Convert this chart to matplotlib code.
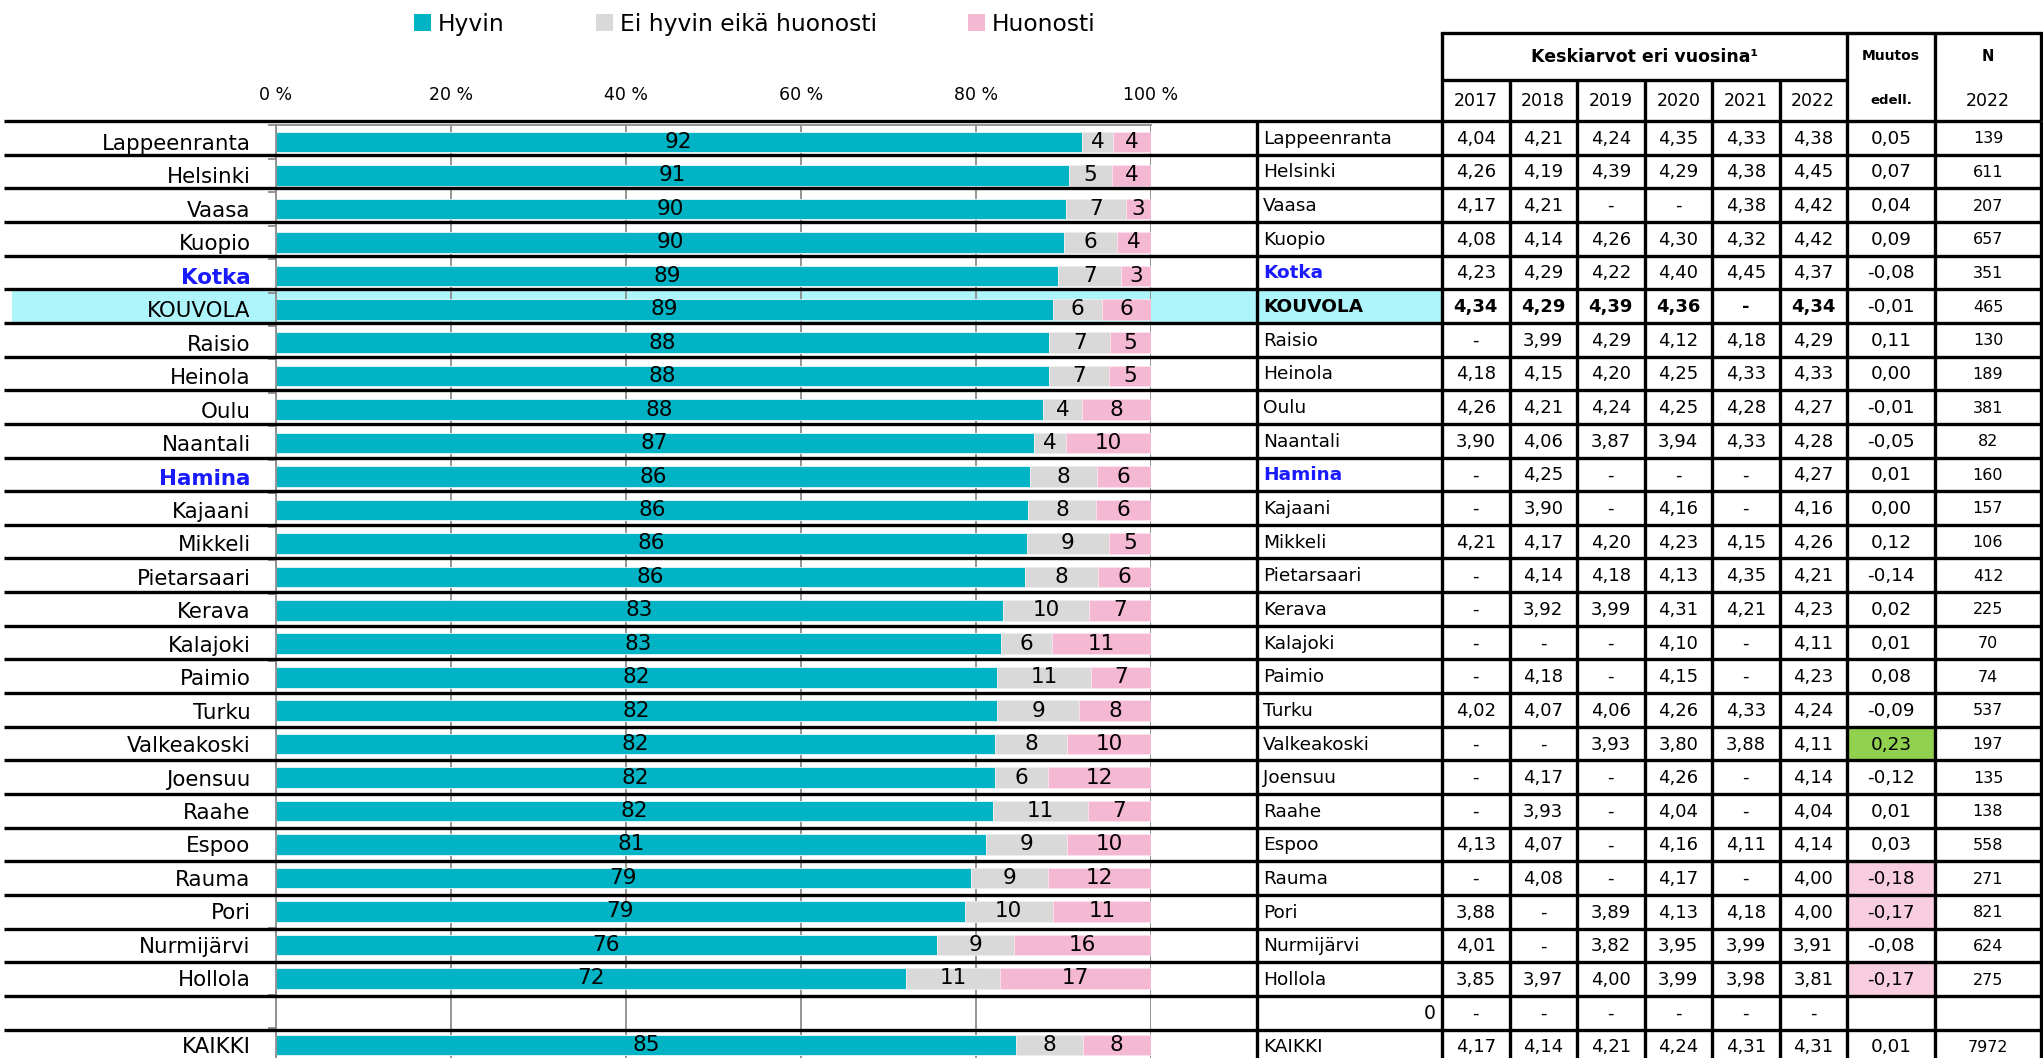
import matplotlib
matplotlib.use("Agg")
import matplotlib.pyplot as plt
from matplotlib.patches import Rectangle, Patch
import numpy as np

# ---------------- data ----------------
labels = ["Lappeenranta", "Helsinki", "Vaasa", "Kuopio", "Kotka", "KOUVOLA", "Raisio",
          "Heinola", "Oulu", "Naantali", "Hamina", "Kajaani", "Mikkeli", "Pietarsaari",
          "Kerava", "Kalajoki", "Paimio", "Turku", "Valkeakoski", "Joensuu", "Raahe",
          "Espoo", "Rauma", "Pori", "Nurmijärvi", "Hollola", "", "KAIKKI"]
nan = np.nan
hyvin = [92.1, 90.6, 90.3, 90.1, 89.4, 88.8, 88.4, 88.3, 87.7, 86.6, 86.2, 86.0, 85.8, 85.6,
         83.1, 82.9, 82.4, 82.4, 82.2, 82.2, 81.9, 81.2, 79.4, 78.7, 75.6, 72.0, nan, 84.6]
ei_hyvin = [3.6, 5.0, 6.8, 6.0, 7.2, 5.6, 6.9, 6.9, 4.4, 3.7, 7.6, 7.7, 9.4, 8.3,
            9.8, 5.8, 10.8, 9.4, 8.2, 6.0, 10.9, 9.2, 8.8, 10.1, 8.8, 10.8, nan, 7.6]
huonosti = [4.3, 4.4, 2.9, 3.9, 3.4, 5.6, 4.7, 4.8, 7.9, 9.7, 6.2, 6.3, 4.8, 6.1,
            7.1, 11.3, 6.8, 8.2, 9.6, 11.8, 7.2, 9.6, 11.8, 11.2, 15.6, 17.2, nan, 7.8]

series_names = ["Hyvin", "Ei hyvin eikä huonosti", "Huonosti"]
x_ticks = [0, 20, 40, 60, 80, 100]
x_ticklabels = ["0 %", "20 %", "40 %", "60 %", "80 %", "100 %"]

table_names = labels[:26] + ["0", "KAIKKI"]
years = ["2017", "2018", "2019", "2020", "2021", "2022"]
N = None
avg_2017 = [4.04, 4.26, 4.17, 4.08, 4.23, 4.34, N, 4.18, 4.26, 3.90, N, N, 4.21, N,
            N, N, N, 4.02, N, N, N, 4.13, N, 3.88, 4.01, 3.85, N, 4.17]
avg_2018 = [4.21, 4.19, 4.21, 4.14, 4.29, 4.29, 3.99, 4.15, 4.21, 4.06, 4.25, 3.90, 4.17, 4.14,
            3.92, N, 4.18, 4.07, N, 4.17, 3.93, 4.07, 4.08, N, N, 3.97, N, 4.14]
avg_2019 = [4.24, 4.39, N, 4.26, 4.22, 4.39, 4.29, 4.20, 4.24, 3.87, N, N, 4.20, 4.18,
            3.99, N, N, 4.06, 3.93, N, N, N, N, 3.89, 3.82, 4.00, N, 4.21]
avg_2020 = [4.35, 4.29, N, 4.30, 4.40, 4.36, 4.12, 4.25, 4.25, 3.94, N, 4.16, 4.23, 4.13,
            4.31, 4.10, 4.15, 4.26, 3.80, 4.26, 4.04, 4.16, 4.17, 4.13, 3.95, 3.99, N, 4.24]
avg_2021 = [4.33, 4.38, 4.38, 4.32, 4.45, N, 4.18, 4.33, 4.28, 4.33, N, N, 4.15, 4.35,
            4.21, N, N, 4.33, 3.88, N, N, 4.11, N, 4.18, 3.99, 3.98, N, 4.31]
avg_2022 = [4.38, 4.45, 4.42, 4.42, 4.37, 4.34, 4.29, 4.33, 4.27, 4.28, 4.27, 4.16, 4.26, 4.21,
            4.23, 4.11, 4.23, 4.24, 4.11, 4.14, 4.04, 4.14, 4.00, 4.00, 3.91, 3.81, N, 4.31]
muutos = [0.05, 0.07, 0.04, 0.09, -0.08, -0.01, 0.11, 0.00, -0.01, -0.05, 0.01, 0.00, 0.12, -0.14,
          0.02, 0.01, 0.08, -0.09, 0.23, -0.12, 0.01, 0.03, -0.18, -0.17, -0.08, -0.17, N, 0.01]
n_2022 = [139, 611, 207, 657, 351, 465, 130, 189, 381, 82, 160, 157, 106, 412,
          225, 70, 74, 537, 197, 135, 138, 558, 271, 821, 624, 275, N, 7972]
highlight_cities = ["Kotka", "Hamina"]
own_city = "KOUVOLA"

# ---------------- style / layout ----------------
TEAL = "#00b4c6"
GREY = "#d9d9d9"
PINK = "#f5b8d3"
CYAN = "#adf5fa"
BLUE = "#1a1aff"
GRID = "#8c8c8c"
GREEN_CELL = "#92d050"
PINK_CELL = "#f8cde0"

W, H = 2043, 1058
row_top, row_h = 121.0, 33.65
n_rows = len(labels)
col_edges = [1257, 1442, 1509.5, 1577, 1644.5, 1712, 1779.5, 1847, 1935, 2041]
ax_left, ax_right = 275.5, 1151.0
cat_top, cat_step = 125.3, 33.45

fig = plt.figure(figsize=(W / 100, H / 100), dpi=100)

# background overlay (highlights)
bg = fig.add_axes([0, 0, 1, 1], zorder=0)
bg.set_xlim(0, W)
bg.set_ylim(H, 0)
bg.axis("off")
ki = labels.index(own_city)
bg.add_patch(Rectangle((12, row_top + ki * row_h), col_edges[1] - 12, row_h,
                       facecolor=CYAN, edgecolor="none"))
for i, m in enumerate(muutos):
    if m is None:
        continue
    if m >= 0.15 or m <= -0.15:
        bg.add_patch(Rectangle((col_edges[7], row_top + i * row_h), col_edges[8] - col_edges[7], row_h,
                               facecolor=GREEN_CELL if m > 0 else PINK_CELL, edgecolor="none"))

# bar chart axes
ax_h = n_rows * cat_step
ax = fig.add_axes([ax_left / W, (H - (cat_top + ax_h)) / H, (ax_right - ax_left) / W, ax_h / H],
                  zorder=1)
ax.patch.set_alpha(0)
y = np.arange(n_rows)
h_arr = np.array(hyvin)
e_arr = np.array(ei_hyvin)
p_arr = np.array(huonosti)
bh = 0.615
c1 = ax.barh(y, h_arr, height=bh, color=TEAL, edgecolor="#e6f7f9", linewidth=0.6, zorder=2)
c2 = ax.barh(y, e_arr, left=h_arr, height=bh, color=GREY, edgecolor="#eeeeee", linewidth=0.6, zorder=2)
c3 = ax.barh(y, p_arr, left=h_arr + e_arr, height=bh, color=PINK, edgecolor="#fbe3ee", linewidth=0.6, zorder=2)
for cont, vals in ((c1, h_arr), (c2, e_arr), (c3, p_arr)):
    labs = ["" if np.isnan(v) else f"{v:.0f}" for v in vals]
    ax.bar_label(cont, labels=labs, label_type="center", fontsize=15.5, color="black", zorder=3)

ax.set_xlim(0, 100)
ax.set_ylim(n_rows - 0.5, -0.5)
ax.xaxis.tick_top()
ax.set_xticks(x_ticks)
ax.set_xticklabels(x_ticklabels)
ax.tick_params(axis="x", length=0, pad=15, labelsize=12.5)
ax.xaxis.grid(True, color=GRID, linewidth=1.3)
ax.set_axisbelow(True)
ax.set_yticks(y)
ax.set_yticklabels(labels)
ax.tick_params(axis="y", which="major", length=0, pad=18, labelsize=15.4)
ax.set_yticks(np.arange(-0.5, n_rows, 1), minor=True)
ax.tick_params(axis="y", which="minor", length=5.5, width=1.3, color=GRID, direction="out")
for t in ax.get_yticklabels():
    if t.get_text() in highlight_cities:
        t.set_color(BLUE)
        t.set_fontweight("bold")
for s in ("right", "bottom"):
    ax.spines[s].set_visible(False)
for s in ("left", "top"):
    ax.spines[s].set_color(GRID)
    ax.spines[s].set_linewidth(1.3)

# legend
handles = [Patch(facecolor=c, edgecolor="none", label=l) for c, l in zip((TEAL, GREY, PINK), series_names)]
fig.legend(handles=handles, ncol=3, loc="upper left", bbox_to_anchor=(414 / W, 1 - 13 / H),
           frameon=False, fontsize=16.8, handlelength=0.73, handleheight=0.73, handletextpad=0.3,
           columnspacing=3.9, borderpad=0, borderaxespad=0)

# foreground overlay: grid lines and table
fg = fig.add_axes([0, 0, 1, 1], zorder=3)
fg.set_xlim(0, W)
fg.set_ylim(H, 0)
fg.axis("off")
fg.patch.set_alpha(0)
LW = 2.4
for k in range(n_rows + 1):
    yy = row_top + k * row_h
    fg.plot([4, col_edges[-1]], [yy, yy], color="black", lw=LW, solid_capstyle="butt")
for x in col_edges:
    fg.plot([x, x], [row_top, H], color="black", lw=LW, solid_capstyle="butt")
# header box
hdr_top, hdr_mid = 33, 80
fg.plot([col_edges[1], col_edges[-1]], [hdr_top, hdr_top], color="black", lw=LW, solid_capstyle="projecting")
fg.plot([col_edges[1], col_edges[7]], [hdr_mid, hdr_mid], color="black", lw=LW, solid_capstyle="butt")
for x in (col_edges[1], col_edges[7], col_edges[8], col_edges[9]):
    fg.plot([x, x], [hdr_top, row_top], color="black", lw=LW, solid_capstyle="butt")
for x in col_edges[2:7]:
    fg.plot([x, x], [hdr_mid, row_top], color="black", lw=LW, solid_capstyle="butt")

yc1 = (hdr_top + hdr_mid) / 2
yc2 = (hdr_mid + row_top) / 2
fg.text((col_edges[1] + col_edges[7]) / 2, yc1, "Keskiarvot eri vuosina¹", ha="center", va="center",
        fontsize=12.5, fontweight="bold")
for j, yr in enumerate(years):
    fg.text((col_edges[1 + j] + col_edges[2 + j]) / 2, yc2, yr, ha="center", va="center", fontsize=12.5)
mx = (col_edges[7] + col_edges[8]) / 2
nx = (col_edges[8] + col_edges[9]) / 2
fg.text(mx, yc1, "Muutos", ha="center", va="center", fontsize=10, fontweight="bold")
fg.text(mx, yc2, "edell.", ha="center", va="center", fontsize=9.5, fontweight="bold")
fg.text(nx, yc1, "N", ha="center", va="center", fontsize=10.5, fontweight="bold")
fg.text(nx, yc2, "2022", ha="center", va="center", fontsize=12.5)


def fmt(v, dash="-"):
    if v is None:
        return dash
    return f"{v:.2f}".replace(".", ",")


year_cols = [avg_2017, avg_2018, avg_2019, avg_2020, avg_2021, avg_2022]
for i, name in enumerate(table_names):
    yc = row_top + (i + 0.5) * row_h + 1
    own = labels[i] == own_city
    wt = "bold" if (own or name in highlight_cities) else "normal"
    col = BLUE if name in highlight_cities else "black"
    if labels[i] == "":
        fg.text(col_edges[1] - 6, yc, name, ha="right", va="center", fontsize=13.5)
    else:
        fg.text(col_edges[0] + 6, yc, name, ha="left", va="center", fontsize=13.3, color=col, fontweight=wt)
    for j, colvals in enumerate(year_cols):
        fg.text((col_edges[1 + j] + col_edges[2 + j]) / 2, yc, fmt(colvals[i]), ha="center", va="center",
                fontsize=13, fontweight="bold" if own else "normal")
    fg.text(mx, yc, fmt(muutos[i], dash=""), ha="center", va="center", fontsize=13.3)
    fg.text(nx, yc, "" if n_2022[i] is None else str(n_2022[i]), ha="center", va="center", fontsize=11.5)

fig.savefig("out.png", dpi=100)
